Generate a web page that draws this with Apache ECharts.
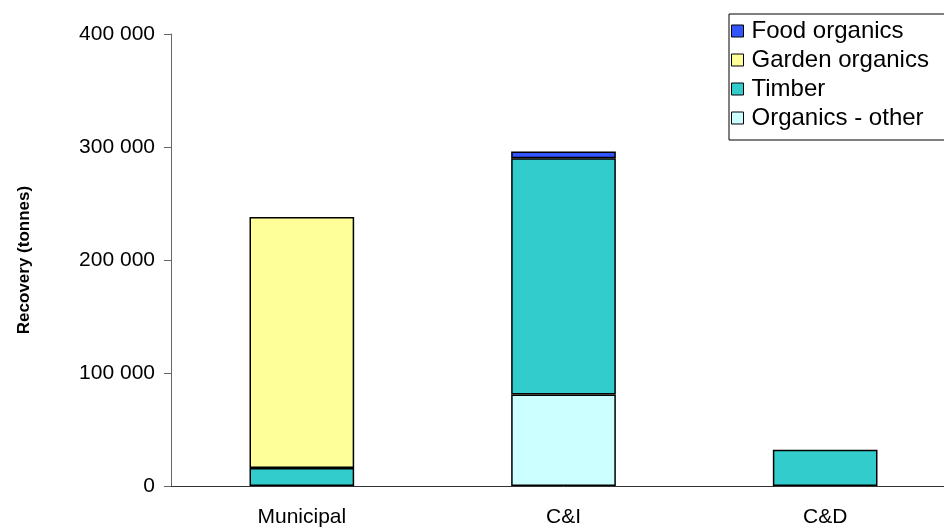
<!DOCTYPE html>
<html>
<head>
<meta charset="utf-8">
<script src="https://cdn.jsdelivr.net/npm/echarts@6/dist/echarts.min.js"></script>
<style>
  html, body { margin: 0; padding: 0; background: #fff; overflow: hidden; width: 944px; height: 528px; }
  /* plot area runs slightly past the right edge of the page */
  #chart { width: 956px; height: 528px; }
</style>
</head>
<body>
<div id="chart"></div>
<script>
// Organics recovery by source sector (tonnes)
const categories = ['Municipal', 'C&I', 'C&D'];
const organicsOther = [0, 81000, 0];
const timber = [16000, 209000, 32000];
const gardenOrganics = [222000, 0, 0];
const foodOrganics = [0, 6000, 0];
const legendOrder = ['Food organics', 'Garden organics', 'Timber', 'Organics - other'];

const FONT = '"Liberation Sans", Arial, sans-serif';

function fmt(v) {
  return String(v).replace(/\B(?=(\d{3})+(?!\d))/g, ' ');
}

function barSeries(name, data, color) {
  return {
    name: name,
    type: 'bar',
    stack: 'total',
    barWidth: '40%',
    data: data.map(v => (v === 0 ? null : v)),
    itemStyle: { color: color, borderColor: '#000', borderWidth: 1.5 }
  };
}

const chart = echarts.init(document.getElementById('chart'), null, { renderer: 'canvas' });
chart.setOption({
  animation: false,
  backgroundColor: '#fff',
  textStyle: { fontFamily: FONT },
  grid: { left: 171, top: 34, right: 0, bottom: 41 },
  legend: {
    data: legendOrder,
    orient: 'vertical',
    left: 729,
    top: 14,
    padding: [5, 20, 10, 2],
    itemGap: 5,
    itemWidth: 12,
    itemHeight: 12,
    icon: 'rect',
    borderColor: '#000',
    borderWidth: 1,
    backgroundColor: '#fff',
    textStyle: { fontFamily: FONT, fontSize: 24, color: '#000', padding: [0, 0, 0, 3] },
    itemStyle: { borderColor: '#000', borderWidth: 1 }
  },
  xAxis: {
    type: 'category',
    data: categories,
    axisLine: { lineStyle: { color: '#333', width: 1 } },
    axisTick: { show: false },
    axisLabel: { fontFamily: FONT, fontSize: 21, color: '#000', margin: 21 }
  },
  yAxis: {
    type: 'value',
    min: 0,
    max: 400000,
    interval: 100000,
    name: 'Recovery (tonnes)',
    nameLocation: 'middle',
    nameGap: 138,
    nameTextStyle: { fontFamily: FONT, fontSize: 17, fontWeight: 'bold', color: '#000' },
    axisLine: { show: true, lineStyle: { color: '#666', width: 1 } },
    axisTick: { show: true, length: 7, lineStyle: { color: '#666' } },
    splitLine: { show: false },
    axisLabel: { fontFamily: FONT, fontSize: 21, color: '#000', margin: 16, formatter: fmt }
  },
  series: [
    barSeries('Organics - other', organicsOther, '#CCFFFF'),
    barSeries('Timber', timber, '#33CCCC'),
    barSeries('Garden organics', gardenOrganics, '#FFFF99'),
    barSeries('Food organics', foodOrganics, '#3355FF')
  ]
});
</script>
</body>
</html>
